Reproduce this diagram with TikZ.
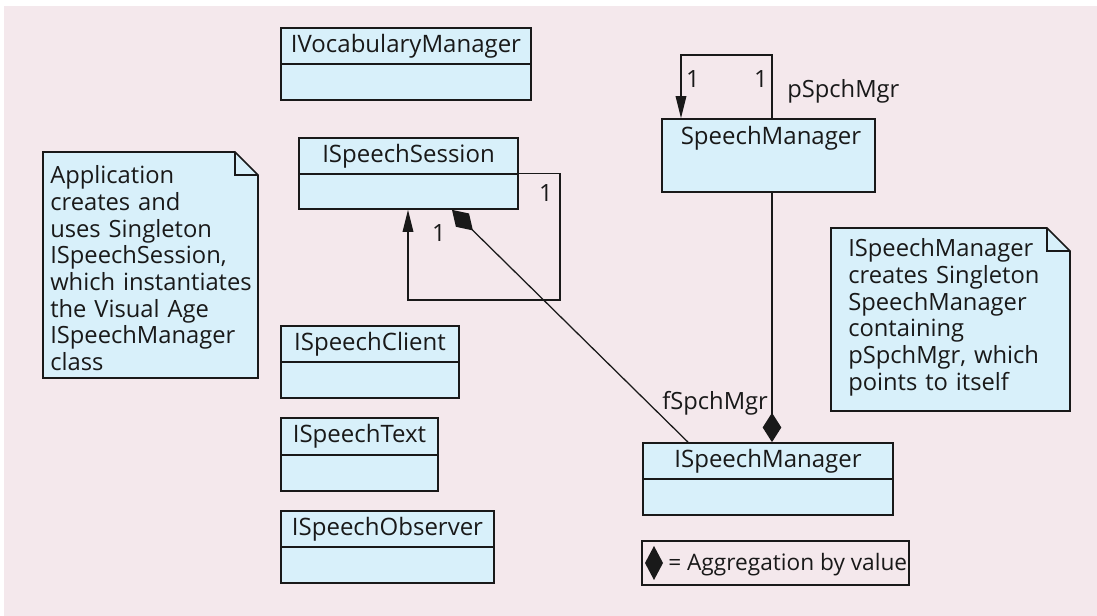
\documentclass[tikz,border=0pt]{standalone}
\usepackage{fontspec}
\setmainfont{Open Sans}
\usetikzlibrary{arrows.meta,fit}

\definecolor{paper}{RGB}{244,232,236}
\definecolor{boxfill}{RGB}{216,240,250}
\definecolor{ink}{RGB}{25,25,25}

\tikzset{
  classbox/.style={draw=ink, line width=1.3pt, fill=boxfill, inner sep=0pt},
  compline/.style={draw=ink, line width=1.3pt},
  classname/.style={font=\fontsize{18}{21}\selectfont, text=ink, inner sep=0pt},
  notebox/.style={draw=ink, line width=1.3pt, fill=boxfill, line join=miter},
  notetext/.style={font=\fontsize{17.8}{20}\selectfont, align=left, text width=200pt,
    text=ink, inner sep=0pt, anchor=base west},
  link/.style={draw=ink, line width=0.95pt},
  navarrow/.style={-{Triangle[length=16.5pt,width=8pt]}},
  aggr/.style={-{Diamond[length=22pt,width=14pt]}},
  mult/.style={font=\fontsize{17.8}{20}\selectfont, text=ink, inner sep=0pt, anchor=base},
}

% class box with a name compartment and an empty attribute compartment
\newcommand\umlclass[7]{% id, x1, y1, x2, y2, divider y, name
  \node[classbox, fit={(#2,#3) (#4,#5)}] (#1) {};
  \draw[compline] (#2,#6) -- (#4,#6);
  \node[classname] (#1-name) at ({(#2+#4)/2},{(#3+#6)/2}) {#7};
}

\begin{document}
\begin{tikzpicture}[x=0.75pt,y=-0.75pt]
  % page
  \fill[white] (0,0) rectangle (1097,616);
  \fill[paper] (4,6) rectangle (1097,616);
  \useasboundingbox (0,0) rectangle (1097,616);

  % classes
  \umlclass{vocab}{281}{28}{531}{100}{64}{IVocabularyManager}
  \umlclass{session}{299}{138}{518}{209}{174}{ISpeechSession}
  \umlclass{client}{281}{326}{459}{398}{362}{ISpeechClient}
  \umlclass{text}{281}{418}{438}{491}{455}{ISpeechText}
  \umlclass{observer}{281}{511}{494}{583}{547}{ISpeechObserver}
  \umlclass{manager}{643}{443}{893}{515}{479}{ISpeechManager}
  \node[classbox, fit={(662,119) (875,192)}] (smgr) {};
  \node[classname] (smgr-name) at (771,138) {SpeechManager};

  % notes
  \draw[notebox] (43,152) -- (235,152) -- (258,175) -- (258,378) -- (43,378) -- cycle;
  \draw[compline] (235,152) -- (235,175) -- (258,175);
  \node[notetext] (appnote) at (50,184)
    {Application\\creates and\\uses Singleton\\ISpeechSession,\\which instantiates\\the Visual Age\\ISpeechManager\\class};

  \draw[notebox] (831,228) -- (1047,228) -- (1070,251) -- (1070,411) -- (831,411) -- cycle;
  \draw[compline] (1047,228) -- (1047,251) -- (1070,251);
  \node[notetext] (mgrnote) at (848,257)
    {ISpeechManager\\creates Singleton\\SpeechManager\\containing\\pSpchMgr, which\\points to itself};

  % ISpeechSession refers to itself
  \coordinate (sessloop) at (560,300);
  \coordinate (sessin) at (408,300);
  \draw[link,navarrow] (session.east) -- (session.east -| sessloop) -- (sessloop)
    -- (sessin) -- (session.south -| sessin);
  \node[mult] (sessmulta) at (546,202) {1};
  \node[mult] (sessmultb) at (439,242) {1};

  % ISpeechSession holds an ISpeechManager by value
  \coordinate (sessagg) at (452,0);
  \coordinate (mgrlink) at (688,0);
  \draw[link,aggr] (manager.north -| mgrlink) -- (session.south -| sessagg);
  \node[mult, anchor=base west] (frole) at (662,410) {fSpchMgr};

  % SpeechManager refers to itself
  \coordinate (smloopr) at (772,55);
  \coordinate (smloopl) at (681,55);
  \draw[link,navarrow] (smgr.north -| smloopr) -- (smloopr) -- (smloopl)
    -- (smgr.north -| smloopl);
  \node[mult] (smmulta) at (693,88) {1};
  \node[mult] (smmultb) at (761,88) {1};
  \node[mult, anchor=base west] (prole) at (787,98) {pSpchMgr};

  % ISpeechManager holds the SpeechManager by value
  \draw[link,aggr] (smgr.south -| smloopr) -- (manager.north -| smloopr);

  % legend
  \node[draw=ink, line width=0.95pt, inner sep=0pt, fit={(642,541) (909,585)}] (legend) {};
  \fill[ink] (654,546) -- (663,563) -- (654,580) -- (645,563) -- cycle;
  \node[mult, anchor=base west, font=\fontsize{17}{20}\selectfont] (legendtext) at (668,571) {= Aggregation by value};
\end{tikzpicture}
\end{document}
